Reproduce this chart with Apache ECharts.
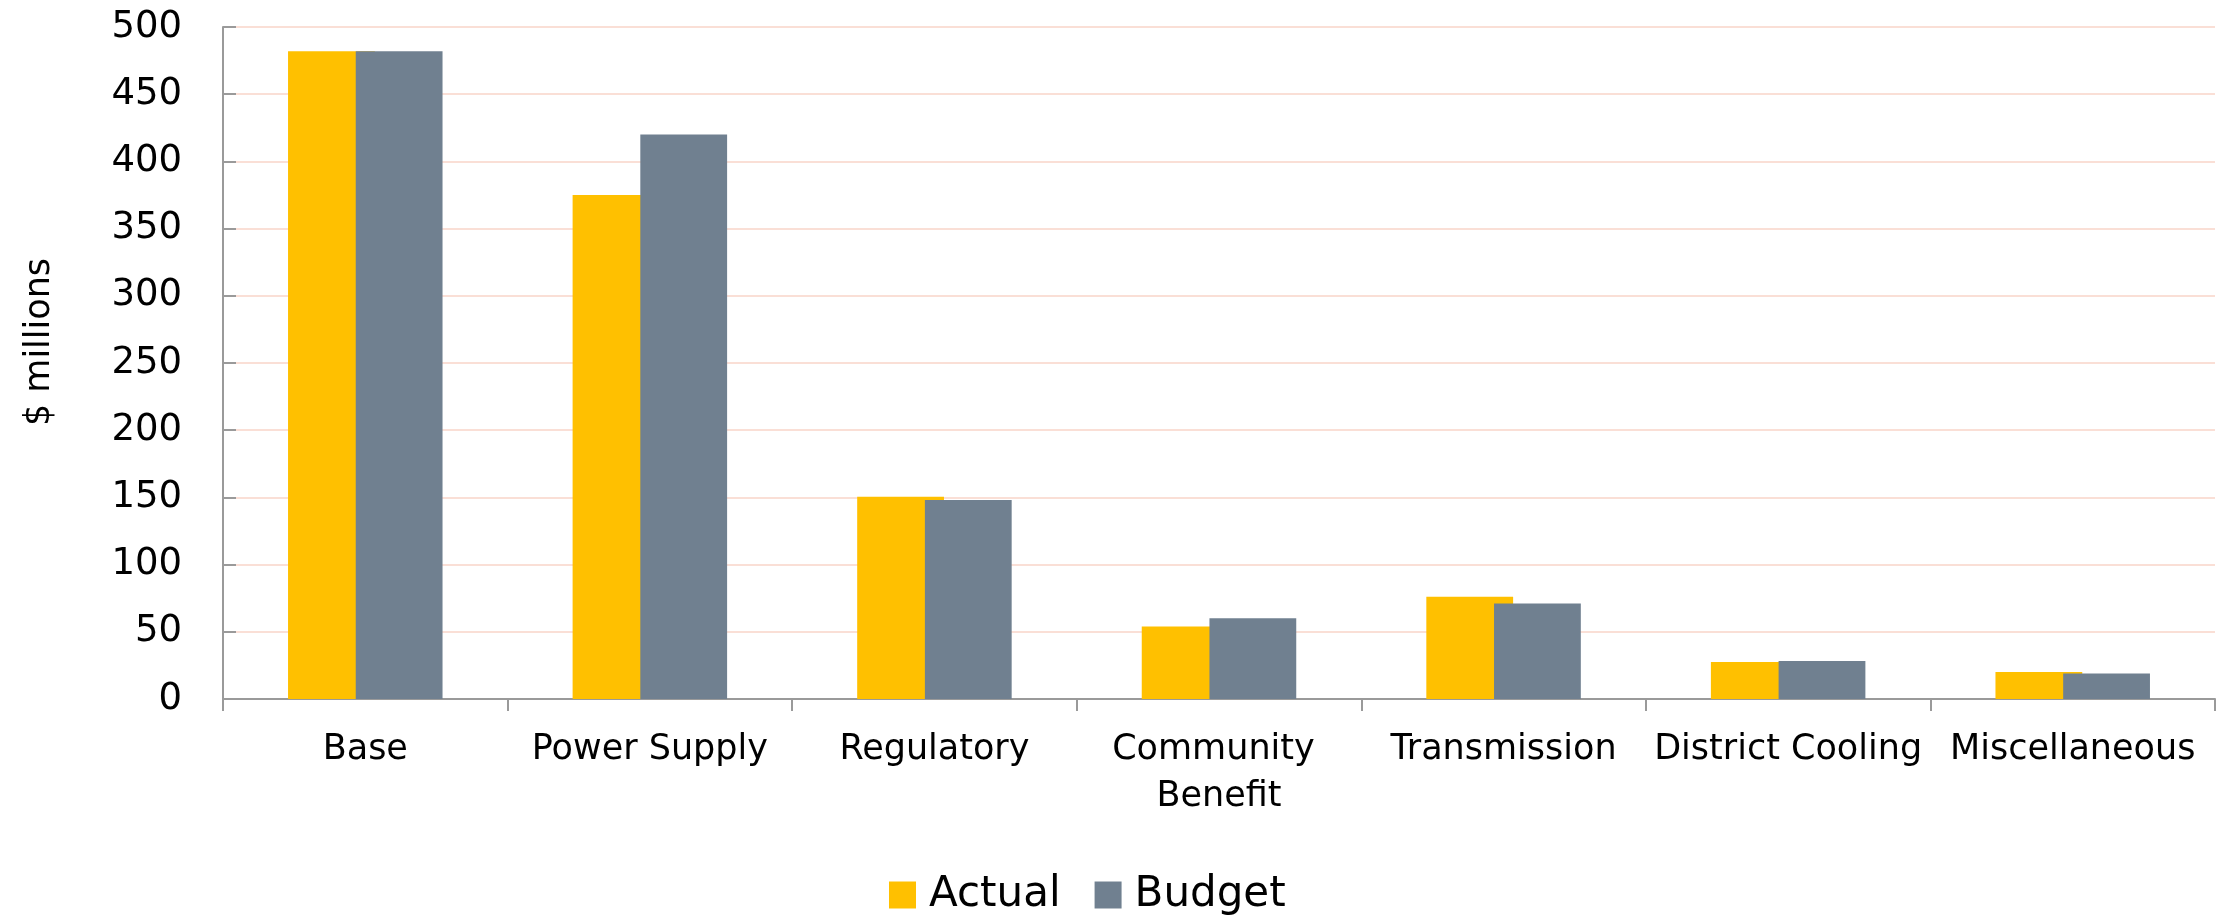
<!DOCTYPE html>
<html>
<head>
<meta charset="utf-8">
<script src="https://cdn.jsdelivr.net/npm/echarts@6/dist/echarts.min.js"></script>
<style>
  html, body { margin: 0; padding: 0; background: #fff; }
  #chart { width: 2226px; height: 919px; }
</style>
</head>
<body>
<div id="chart"></div>
<script>
  // categories and values ($ millions)
  var categories = ['Base', 'Power Supply', 'Regulatory', 'Community Benefit', 'Transmission', 'District Cooling', 'Miscellaneous']
  var actual = [482, 375, 150.5, 54, 76, 27.5, 20]
  var budget = [482, 420, 148, 60, 71, 28.3, 19]
  var yTicks = [0, 50, 100, 150, 200, 250, 300, 350, 400, 450, 500]

  var font = 'DejaVu Sans'
  var chart = echarts.init(document.getElementById('chart'))

  var option = {
    animation: false,
    textStyle: { fontFamily: font },
    grid: { left: 223, right: 11, top: 27, bottom: 220, containLabel: false },
    legend: {
      data: ['Actual', 'Budget'],
      left: 884,
      top: 869,
      icon: 'rect',
      itemWidth: 27,
      itemHeight: 27,
      itemGap: 34,
      textStyle: { fontFamily: font, fontSize: 42, color: '#000', padding: [0, 0, 0, 8] }
    },
    xAxis: {
      type: 'category',
      data: categories,
      axisLine: { lineStyle: { color: '#9a9a9a', width: 2 } },
      axisTick: { show: true, length: 12, lineStyle: { color: '#9a9a9a', width: 2 } },
      axisLabel: {
        fontFamily: font, fontSize: 35, color: '#000', margin: 27,
        width: 292, overflow: 'break', lineHeight: 47, interval: 0
      }
    },
    yAxis: {
      type: 'value',
      min: yTicks[0],
      max: yTicks[yTicks.length - 1],
      interval: 50,
      name: '$ millions',
      nameLocation: 'middle',
      nameGap: 166,
      nameTextStyle: { fontFamily: font, fontSize: 35, color: '#000', padding: [0, 0, 0, 42] },
      axisLine: { show: true, lineStyle: { color: '#9a9a9a', width: 2 } },
      axisTick: { show: true, inside: true, length: 13, lineStyle: { color: '#9a9a9a', width: 2 } },
      axisLabel: { fontFamily: font, fontSize: 37, color: '#000', margin: 41 },
      splitLine: { lineStyle: { color: '#fadfd6', width: 2 } }
    },
    series: [
      {
        name: 'Actual',
        type: 'bar',
        data: actual,
        barWidth: '30.5%',
        barGap: '-22%',
        itemStyle: { color: '#ffc000' }
      },
      {
        name: 'Budget',
        type: 'bar',
        data: budget,
        barWidth: '30.5%',
        itemStyle: { color: '#708090' }
      }
    ]
  }
  chart.setOption(option)
</script>
</body>
</html>
